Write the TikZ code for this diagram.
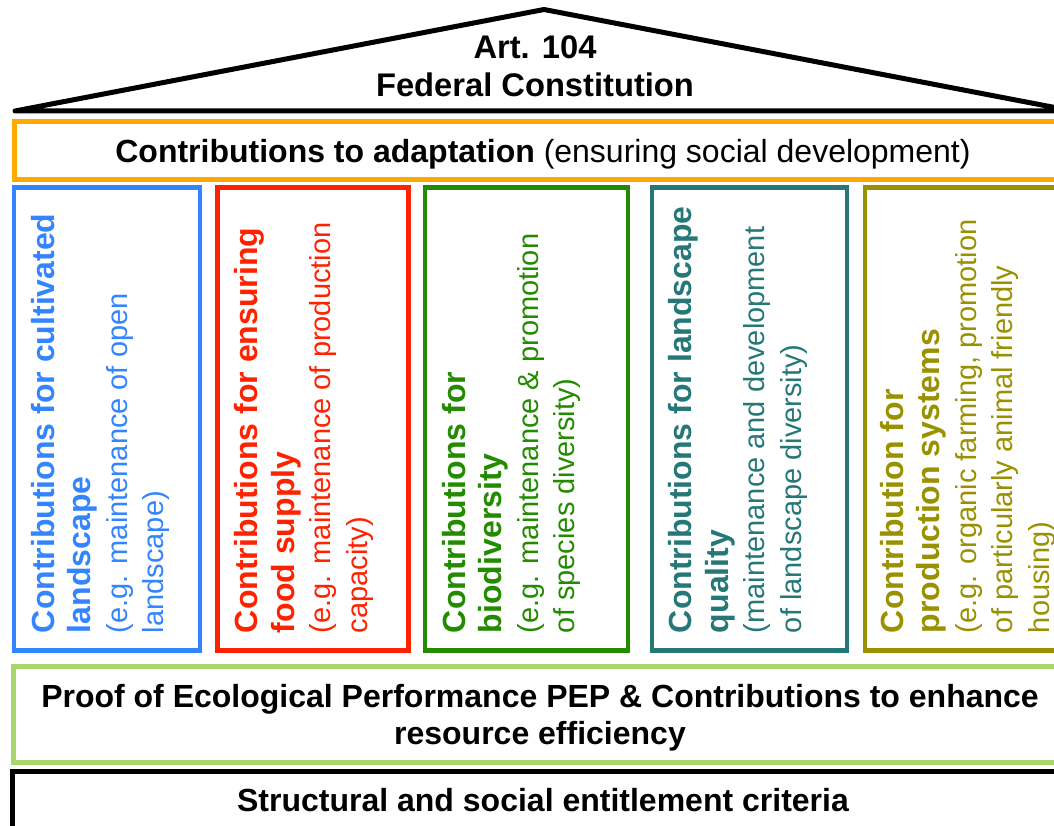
\documentclass[tikz,border=0pt]{standalone}
\usepackage{fontspec}
\setmainfont{Liberation Sans}
\definecolor{adaptOrange}{RGB}{255,168,0}
\definecolor{cultBlue}{RGB}{51,133,255}
\definecolor{foodRed}{RGB}{255,34,0}
\definecolor{bioGreen}{RGB}{34,139,0}
\definecolor{qualTeal}{RGB}{38,120,120}
\definecolor{prodOlive}{RGB}{153,145,0}
\definecolor{pepGreen}{RGB}{168,216,104}
\newcommand{\colhead}[1]{{\fontsize{32}{36.5}\selectfont\bfseries #1}}

\begin{document}
\begin{tikzpicture}[
        x=1pt, y=-1pt,
        every node/.style={inner sep=0pt, outer sep=0pt},
        roof/.style={draw, line width=5pt, line join=round, line cap=round},
        band/.style={draw=#1, line width=5pt},
        pillar/.style={draw=#1, line width=4.5pt, minimum height=463pt},
        pillartext/.style={text=#1, rotate=90, anchor=north west, align=left, font=\fontsize{29}{36.5}\selectfont},
        title/.style={font=\fontsize{32}{37}\selectfont\bfseries, align=center},
    ]
    \useasboundingbox (0,0) rectangle (1054,826);
    \clip (0,0) rectangle (1054,826);
    % roof
    \coordinate (eaveL) at (15,111);
    \coordinate (ridge) at (544,9.5);
    \coordinate (eaveR) at (1073,111);
    \draw[roof] (eaveL) -- (ridge) -- (eaveR) -- cycle;
    \node[title, font=\fontsize{32.7}{38}\selectfont\bfseries] (art) at (535,66.5) {Art. 104\\Federal Constitution};
    % adaptation band
    \node[band=adaptOrange, minimum width=1046pt, minimum height=57.3pt] (adapt) at (537,150.4) {};
    \node[anchor=base, font=\fontsize{32}{37}\selectfont] (adapttext) at (543,163) {\textbf{Contributions to adaptation} (ensuring social development)};
    % pillars
    \node[pillar=cultBlue, minimum width=186pt] (cult) at (107,419) {};
    \node[pillar=foodRed, minimum width=191pt] (food) at (313,419) {};
    \node[pillar=bioGreen, minimum width=203pt] (bio) at (526.7,419) {};
    \node[pillar=qualTeal, minimum width=195pt] (qual) at (749.3,419) {};
    \node[pillar=prodOlive, minimum width=200pt] (prod) at (965,419) {};
    \node[pillartext=cultBlue] (culttext) at ([shift={(17,-17.5)}]cult.south west)
        {\colhead{Contributions for cultivated}\\\colhead{landscape}\\(e.g. maintenance of open\\landscape)};
    \node[pillartext=foodRed] (foodtext) at ([shift={(17,-17.5)}]food.south west)
        {\colhead{Contributions for ensuring}\\\colhead{food supply}\\(e.g. maintenance of production\\capacity)};
    \node[pillartext=bioGreen] (biotext) at ([shift={(17,-17.5)}]bio.south west)
        {\colhead{Contributions for}\\\colhead{biodiversity}\\(e.g. maintenance \& promotion\\of species diversity)};
    \node[pillartext=qualTeal] (qualtext) at ([shift={(17,-17.5)}]qual.south west)
        {\colhead{Contributions for landscape}\\\colhead{quality}\\(maintenance and development\\of landscape diversity)};
    \node[pillartext=prodOlive] (prodtext) at ([shift={(15,-17.5)}]prod.south west)
        {\colhead{Contribution for}\\\colhead{production systems}\\(e.g. organic farming, promotion\\of particularly animal friendly\\housing)};
    % foundation
    \node[band=pepGreen, minimum width=1053.6pt, minimum height=96pt] (pep) at (540,714) {};
    \node[title] (peptext) at (540,717.5)
        {Proof of Ecological Performance PEP \& Contributions to enhance\\resource efficiency};
    \node[band=black, title, minimum width=1061pt, minimum height=58pt] (crit) at (543,800)
        {Structural and social entitlement criteria};
\end{tikzpicture}
\end{document}
